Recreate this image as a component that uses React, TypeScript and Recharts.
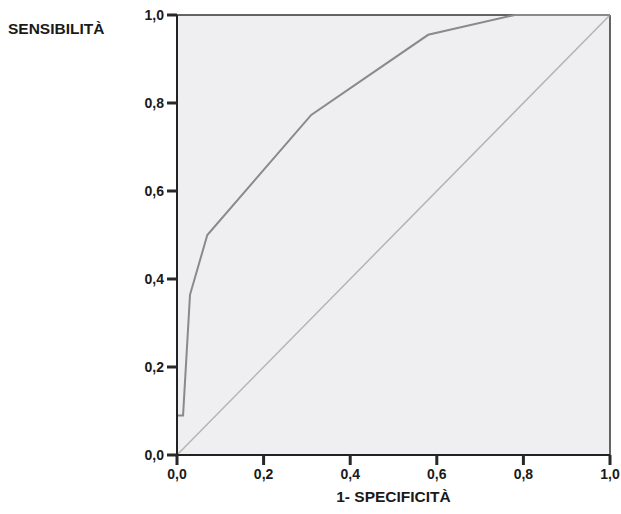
import React from 'react';
import { LineChart, Line, XAxis, YAxis, CartesianGrid, ReferenceLine } from 'recharts';

// ROC curve points (1 - specificity, sensitivity)
const fpr = [0, 0, 0.014, 0.03, 0.07, 0.31, 0.58, 0.78, 1];
const tpr = [0, 0.09, 0.09, 0.364, 0.5, 0.773, 0.955, 1, 1];
const refX = [0, 1];
const refY = [0, 1];
const ticks = [0, 0.2, 0.4, 0.6, 0.8, 1];

const rocData = fpr.map((x, i) => ({ x, y: tpr[i] }));
const refData = refX.map((x, i) => ({ x, y: refY[i] }));

const FONT = '"Liberation Sans", Arial, sans-serif';
const fmt = (v: number) => v.toFixed(1).replace('.', ',');
const TICK_LEN = 10;

const XTick = (props: any) => {
  const { x, payload } = props;
  return (
    <g>
      <path d={`M${x},455 L${x},${455 + TICK_LEN}`} stroke="rgb(40,40,40)" strokeWidth={3} fill="none" />
      <text x={x} y={479} textAnchor="middle" fill="#1a1a1a" fontSize={14} fontWeight="bold" fontFamily={FONT}>
        {fmt(payload.value)}
      </text>
    </g>
  );
};

const YTick = (props: any) => {
  const { y, payload } = props;
  return (
    <g>
      <path d={`M${177 - TICK_LEN},${y} L177,${y}`} stroke="rgb(40,40,40)" strokeWidth={3} fill="none" />
      <text x={164} y={y + 5} textAnchor="end" fill="#1a1a1a" fontSize={14} fontWeight="bold" fontFamily={FONT}>
        {fmt(payload.value)}
      </text>
    </g>
  );
};

export default function App() {
  return (
    <div style={{ position: 'absolute', left: 0, top: 0, width: 621, height: 514, background: '#fff' }}>
      <LineChart width={621} height={514} margin={{ top: 15, right: 11, left: 0, bottom: 0 }}>
        <CartesianGrid fill="#efeff1" horizontal={false} vertical={false} />
        <XAxis
          type="number"
          dataKey="x"
          domain={[0, 1]}
          ticks={ticks}
          height={59}
          axisLine={{ stroke: '#222', strokeWidth: 2 }}
          tickLine={false}
          tick={<XTick />}
          label={{
            content: () => (
              <text x={393.5} y={502} textAnchor="middle" fill="#1a1a1a" fontSize={15.5} fontWeight="bold" fontFamily={FONT}>
                1- SPECIFICITÀ
              </text>
            ),
          }}
        />
        <YAxis
          type="number"
          domain={[0, 1]}
          ticks={ticks}
          width={177}
          axisLine={{ stroke: '#222', strokeWidth: 2 }}
          tickLine={false}
          tick={<YTick />}
          label={{
            content: () => (
              <text x={8} y={34} textAnchor="start" fill="#1a1a1a" fontSize={15.5} fontWeight="bold" fontFamily={FONT}>
                SENSIBILITÀ
              </text>
            ),
          }}
        />
        <ReferenceLine y={1} stroke="#333" strokeWidth={1.5} />
        <ReferenceLine x={1} stroke="#333" strokeWidth={1.5} />
        <Line
          data={refData}
          dataKey="y"
          type="linear"
          stroke="#b4b4b4"
          strokeWidth={1.5}
          dot={false}
          activeDot={false}
          isAnimationActive={false}
        />
        <Line
          data={rocData}
          dataKey="y"
          type="linear"
          stroke="#8a8a8a"
          strokeWidth={2}
          dot={false}
          activeDot={false}
          isAnimationActive={false}
        />
      </LineChart>
    </div>
  );
}
